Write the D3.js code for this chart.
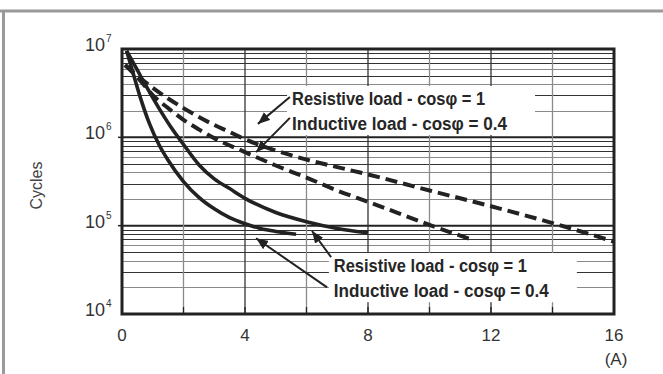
<!DOCTYPE html>
<html><head><meta charset="utf-8">
<script src="https://cdn.jsdelivr.net/npm/d3@7"></script>
<style>html,body{margin:0;padding:0;background:#fff;overflow:hidden}</style>
</head><body><svg id="c" width="663" height="374"></svg>
<script>
// ---- data ----
const xTickValues = [0, 4, 8, 12, 16];
const xGridDark = [4, 8, 12];
const xGridLight = [2, 6, 10, 14];
const yDecades = [1e4, 1e5, 1e6, 1e7];
const yDecadeExps = ["4", "5", "6", "7"];
const xUnit = "(A)";
const yTitle = "Cycles";

// solid curves (resistive / inductive)
const resSolidA = [0.15, 0.5, 0.8, 1.2, 1.6, 2.0, 2.5, 3.0, 3.5, 4.0, 5.0, 6.0, 7.0, 8.0];
const resSolidV = [9.55e6, 5.75e6, 3.72e6, 2.14e6, 1.29e6, 8.3e5, 4.9e5, 3.39e5, 2.63e5, 2.04e5, 1.41e5, 1.11e5, 9.3e4, 8.3e4];
const indSolidA = [0.15, 0.4, 0.6, 0.9, 1.2, 1.5, 2.0, 2.5, 3.0, 3.5, 4.0, 4.5, 5.0, 5.66];
const indSolidV = [9.55e6, 4.8e6, 2.8e6, 1.41e6, 8.3e5, 5.5e5, 3.16e5, 2.09e5, 1.55e5, 1.23e5, 1.05e5, 9.3e4, 8.6e4, 8.0e4];
// dashed curves
const resDashA = [0.1, 0.5, 1, 1.5, 2, 2.5, 3, 3.5, 4, 5, 6, 7, 8, 10, 12, 14, 16];
const resDashV = [6.6e6, 5.0e6, 3.63e6, 2.75e6, 2.14e6, 1.7e6, 1.38e6, 1.15e6, 9.5e5, 7.1e5, 5.6e5, 4.6e5, 3.8e5, 2.5e5, 1.66e5, 1.07e5, 6.6e4];
const indDashA = [0.1, 0.5, 1, 1.5, 2, 2.5, 3, 4, 5, 6, 7, 8, 9, 10, 11.3];
const indDashV = [6.6e6, 4.8e6, 3.0e6, 2.14e6, 1.58e6, 1.23e6, 9.8e5, 6.8e5, 4.8e5, 3.5e5, 2.5e5, 1.86e5, 1.38e5, 1.02e5, 7.1e4];

// annotation texts
const labelTexts = ["Resistive load - cos\u03C6 = 1", "Inductive load - cos\u03C6 = 0.4"];
// annotation anchors (data units)
const topTextAnchor = {a: 5.53, v: [2.32e6, 1.21e6]};
const botTextAnchor = {a: 6.89, v: [2.99e4, 1.55e4]};
const arrowsData = [
  {from: [5.46, 2.86e6], to: [4.42, 1.42e6]},
  {from: [5.46, 1.66e6], to: [4.36, 6.8e5]},
  {from: [6.80, 4.4e4], to: [6.18, 8.7e4]},
  {from: [6.67, 2.0e4], to: [4.36, 7.2e4]}
];

// ---- drawing ----
const svg = d3.select("#c");
const bgLayer = svg.append("g");
const gridLayer = svg.append("g");
const boxLayer = svg.append("g");
const markLayer = svg.append("g");
const textLayer = svg.append("g");

bgLayer.append("rect").attr("width", 663).attr("height", 374).attr("fill", "#fff");
// outer frame
bgLayer.append("line").attr("x1", 0).attr("x2", 663).attr("y1", 11).attr("y2", 11).attr("stroke", "#9a9a9a").attr("stroke-width", 3);
bgLayer.append("line").attr("x1", 3.5).attr("x2", 3.5).attr("y1", 10).attr("y2", 374).attr("stroke", "#9a9a9a").attr("stroke-width", 3);

const L = 122, R = 614, T = 49, B = 314;
const x = d3.scaleLinear().domain([0, 16]).range([L, R]);
const y = d3.scaleLog().domain([1e4, 1e7]).range([B, T]);

// horizontal minor grid
const minors = [];
yDecades.slice(0, 3).forEach(d => { for (let m = 2; m <= 9; m++) minors.push({v: d * m, m}); });
gridLayer.selectAll(".hmin").data(minors).enter().append("line")
  .attr("x1", L).attr("x2", R)
  .attr("y1", d => Math.round(y(d.v)) + 0.5).attr("y2", d => Math.round(y(d.v)) + 0.5)
  .attr("stroke", d => (d.m === 2 || d.m === 4 || d.m === 6) ? "#8a8a8a" : "#333")
  .attr("stroke-width", 1.2);
gridLayer.selectAll(".hmaj").data(yDecades.slice(1, 3)).enter().append("line")
  .attr("x1", L).attr("x2", R).attr("y1", d => y(d)).attr("y2", d => y(d))
  .attr("stroke", "#222").attr("stroke-width", 2);
// vertical grid
gridLayer.selectAll(".vl").data(xGridLight).enter().append("line")
  .attr("x1", d => x(d)).attr("x2", d => x(d)).attr("y1", T).attr("y2", B)
  .attr("stroke", "#8a8a8a").attr("stroke-width", 1.3);
gridLayer.selectAll(".vd").data(xGridDark).enter().append("line")
  .attr("x1", d => x(d)).attr("x2", d => x(d)).attr("y1", T).attr("y2", B)
  .attr("stroke", "#333").attr("stroke-width", 1.3);

// label blocks
const labelFont = "'Liberation Sans Narrow','Liberation Sans',Arial,sans-serif";
function labelBlock(anchor, widths) {
  const box = boxLayer.append("rect").attr("fill", "#fff");
  const texts = labelTexts.map((t, i) => textLayer.append("text")
      .attr("x", x(anchor.a)).attr("y", y(anchor.v[i]))
      .attr("font-family", labelFont).attr("font-weight", "bold").attr("font-size", 18)
      .attr("fill", "#262626").attr("textLength", widths[i]).attr("lengthAdjust", "spacingAndGlyphs")
      .text(t));
  const b0 = texts[0].node().getBBox(), b1 = texts[1].node().getBBox();
  const x0 = x(anchor.a) - 5;
  const x1 = x(anchor.a) + Math.max(widths[0], widths[1]) + 28;
  const y0 = b0.y - 3, y1 = b1.y + b1.height + 1;
  box.attr("x", x0).attr("y", y0).attr("width", x1 - x0).attr("height", y1 - y0);
}
labelBlock(topTextAnchor, [193, 215]);
labelBlock(botTextAnchor, [193, 215]);

// small ticks on bottom axis & left axis
markLayer.selectAll(".xt").data(d3.range(2, 16, 2)).enter().append("line")
  .attr("x1", d => x(d)).attr("x2", d => x(d)).attr("y1", B - 7).attr("y2", B)
  .attr("stroke", "#222").attr("stroke-width", 1.3);
markLayer.selectAll(".yt").data(yDecades.slice(1, 3)).enter().append("line")
  .attr("x1", L - 4).attr("x2", L).attr("y1", d => y(d)).attr("y2", d => y(d))
  .attr("stroke", "#222").attr("stroke-width", 1.5);

// frame
markLayer.append("rect").attr("x", L).attr("y", T).attr("width", R - L).attr("height", B - T)
  .attr("fill", "none").attr("stroke", "#222").attr("stroke-width", 3);

// curves
const line = d3.line().x(d => x(d[0])).y(d => y(d[1])).curve(d3.curveMonotoneX);
const zip = (a, v) => a.map((d, i) => [d, v[i]]);
markLayer.append("path").attr("d", line(zip(resDashA, resDashV))).attr("fill", "none")
  .attr("stroke", "#222").attr("stroke-width", 4).attr("stroke-dasharray", "12,6");
markLayer.append("path").attr("d", line(zip(indDashA, indDashV))).attr("fill", "none")
  .attr("stroke", "#222").attr("stroke-width", 4).attr("stroke-dasharray", "12,6");
markLayer.append("path").attr("d", line(zip(resSolidA, resSolidV))).attr("fill", "none")
  .attr("stroke", "#222").attr("stroke-width", 3.6);
markLayer.append("path").attr("d", line(zip(indSolidA, indSolidV))).attr("fill", "none")
  .attr("stroke", "#222").attr("stroke-width", 3.6);

// arrows
svg.append("defs").append("marker").attr("id", "ah").attr("markerUnits", "userSpaceOnUse")
  .attr("markerWidth", 14).attr("markerHeight", 12).attr("refX", 12).attr("refY", 5)
  .attr("orient", "auto").append("path").attr("d", "M0,0L12,5L0,10Z").attr("fill", "#222");
markLayer.selectAll(".arr").data(arrowsData).enter().append("line")
  .attr("x1", d => x(d.from[0])).attr("y1", d => y(d.from[1]))
  .attr("x2", d => x(d.to[0])).attr("y2", d => y(d.to[1]))
  .attr("stroke", "#222").attr("stroke-width", 2).attr("marker-end", "url(#ah)");

// tick labels
const tickFont = "'Liberation Sans',Arial,sans-serif";
textLayer.selectAll(".xl").data(xTickValues).enter().append("text")
  .attr("x", d => x(d)).attr("y", B + 27).attr("text-anchor", "middle")
  .attr("font-family", tickFont).attr("font-size", 17).attr("fill", "#333").text(d => d);
textLayer.append("text").attr("x", x(16) + 2).attr("y", B + 51).attr("text-anchor", "middle")
  .attr("font-family", tickFont).attr("font-size", 17).attr("fill", "#333").text(xUnit);
yDecades.forEach((d, i) => {
  textLayer.append("text").attr("x", L - 17).attr("y", y(d) + 2).attr("text-anchor", "end")
    .attr("font-family", tickFont).attr("font-size", 18).attr("fill", "#333").text("10");
  textLayer.append("text").attr("x", L - 16).attr("y", y(d) - 7).attr("text-anchor", "start")
    .attr("font-family", tickFont).attr("font-size", 10).attr("fill", "#333").text(yDecadeExps[i]);
});
textLayer.append("text").attr("transform", `translate(42,${(T + B) / 2 + 4}) rotate(-90)`)
  .attr("text-anchor", "middle").attr("font-family", tickFont).attr("font-size", 16)
  .attr("fill", "#444").text(yTitle);
</script></body></html>
